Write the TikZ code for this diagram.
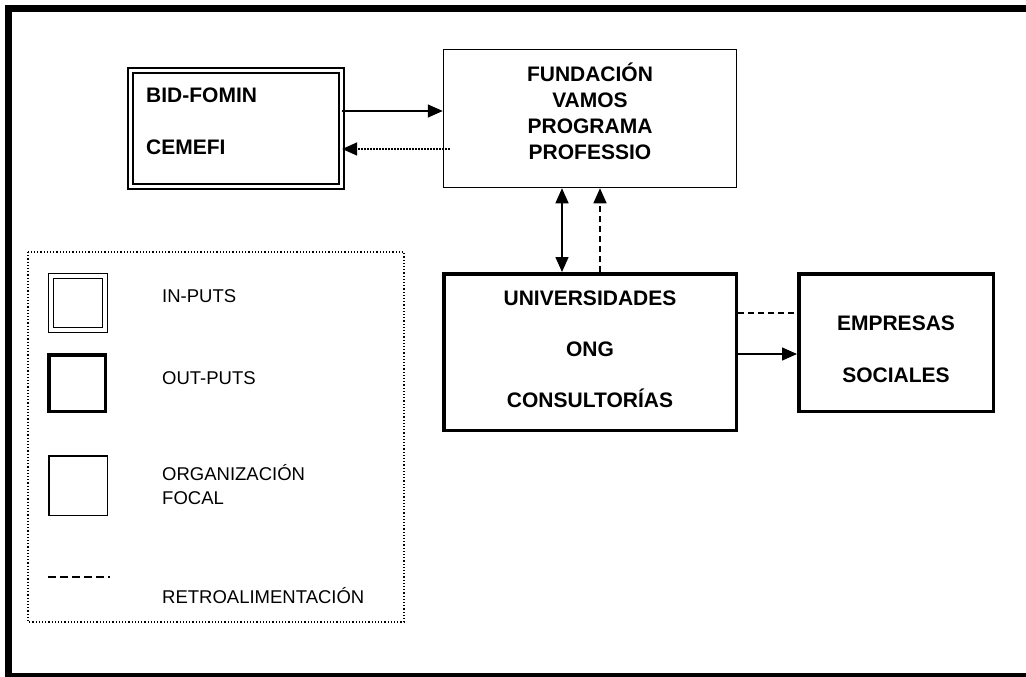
\documentclass[tikz,border=0pt]{standalone}
\usepackage{fontspec}
\setmainfont{Liberation Sans}
\usetikzlibrary{positioning,calc,arrows.meta}

\tikzset{
  focal/.style={draw, line width=1.5pt, inner sep=0pt},
  outbox/.style={draw, line width=3.5pt, inner sep=0pt},
  inbox/.style={draw, double, line width=1.3pt, double distance=3.7pt, inner sep=0pt},
  boxtext/.style={inner sep=0pt, align=center, font=\fontsize{21}{26}\selectfont\bfseries},
  legtext/.style={inner sep=0pt, anchor=west, align=left, font=\fontsize{18.5}{24}\selectfont},
  link/.style={line width=1.5pt, -{Triangle[length=15pt,width=13pt]}},
  feedback/.style={line width=1.5pt, dash pattern=on 6pt off 4pt}
}

\begin{document}
\begin{tikzpicture}[x=1pt, y=-1pt]
    \useasboundingbox (0,0) rectangle (1026,677);
    \draw[line width=7pt] (8.5,8.5) rectangle (1040,676.5);

    % main boxes
    \node[inbox, minimum width=211pt, minimum height=116pt] (bid) at (236,128.5) {};
    \node[focal, minimum width=293pt, minimum height=138pt] (fund) at (590,118.5) {};
    \node[outbox, minimum width=292.5pt, minimum height=156.5pt] (uni) at (590,352) {};
    \node[outbox, minimum width=194.5pt, minimum height=137.5pt] (emp) at (896,342.5) {};

    \node[boxtext, align=left, anchor=west, font=\fontsize{21}{52}\selectfont\bfseries] (bidtxt) at (146,121) {BID-FOMIN\\CEMEFI};
    \node[boxtext] (fundtxt) at ($(fund.center)+(0,-7.5)$) {FUNDACIÓN\\VAMOS\\PROGRAMA\\PROFESSIO};
    \node[boxtext, font=\fontsize{21}{51}\selectfont\bfseries] (unitxt) at ($(uni.center)+(0,-3)$) {UNIVERSIDADES\\ONG\\CONSULTORÍAS};
    \node[boxtext, font=\fontsize{21}{52}\selectfont\bfseries] (emptxt) at ($(emp.center)+(0,6.5)$) {EMPRESAS\\SOCIALES};

    % connectors
    \draw[link] ($(bid.east)+(0,-17.5)$) -- ($(bid.east -| fund.west)+(0,-17.5)$);
    \coordinate (back) at ($(bid.east -| fund.west)+(7,20.5)$);
    \draw[link, dash pattern=on 1.5pt off 1.5pt] (back) -- (back -| bid.east);
    \draw[link, {Triangle[length=15pt,width=13pt]}-{Triangle[length=15pt,width=13pt]}] ([xshift=-28pt]fund.south) -- ([xshift=-28pt]uni.north);
    \draw[link, feedback] ([xshift=10pt]uni.north) -- ([xshift=10pt]fund.south);
    \draw[feedback] ($(uni.east)+(0,-39)$) -- ($(uni.east -| emp.west)+(0,-39)$);
    \draw[link] ($(uni.east)+(0,2)$) -- ($(uni.east -| emp.west)+(0,2)$);

    % legend
    \draw[line width=1.2pt, dotted] (28,252) rectangle (404,622);
    \node[inbox, minimum size=53.7pt] (legin) at (78,303) {};
    \node[outbox, minimum size=56.5pt] (legout) at (77,383) {};
    \node[focal, minimum width=58.5pt, minimum height=59.5pt] (legfocal) at (78,485.5) {};
    \draw[line width=1.3pt, dash pattern=on 8pt off 4pt] (48,577) -- (110,577);

    \node[legtext] (intxt) at (162,296) {IN-PUTS};
    \node[legtext] (outtxt) at (162,378) {OUT-PUTS};
    \node[legtext] (focaltxt) at (162,485) {ORGANIZACIÓN\\FOCAL};
    \node[legtext] (retrotxt) at (162,596) {RETROALIMENTACIÓN};
\end{tikzpicture}
\end{document}
